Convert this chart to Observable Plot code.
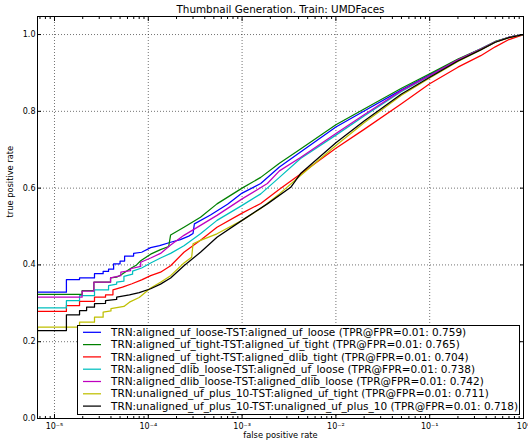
<!DOCTYPE html>
<html><head><meta charset="utf-8">
<script src="https://cdn.jsdelivr.net/npm/d3@7"></script>
<script src="https://cdn.jsdelivr.net/npm/@observablehq/plot@0.6"></script>
<style>
html,body{margin:0;padding:0;background:#fff;}
#chart svg{font-family:"DejaVu Sans";display:block;}
</style>
</head><body><div id="chart"></div>
<script>
const titleText = "Thumbnail Generation. Train: UMDFaces";
const xLabelText = "false positive rate";
const yLabelText = "true positive rate";

const seriesNames = [
  "TRN:aligned_uf_loose-TST:aligned_uf_loose (TPR@FPR=0.01: 0.759)",
  "TRN:aligned_uf_tight-TST:aligned_uf_tight (TPR@FPR=0.01: 0.765)",
  "TRN:aligned_uf_tight-TST:aligned_dlib_tight (TPR@FPR=0.01: 0.704)",
  "TRN:aligned_dlib_loose-TST:aligned_uf_loose (TPR@FPR=0.01: 0.738)",
  "TRN:aligned_dlib_loose-TST:aligned_dlib_loose (TPR@FPR=0.01: 0.742)",
  "TRN:unaligned_uf_plus_10-TST:aligned_uf_tight (TPR@FPR=0.01: 0.711)",
  "TRN:unaligned_uf_plus_10-TST:unaligned_uf_plus_10 (TPR@FPR=0.01: 0.718)"
];
const seriesColors = ["#0000ff", "#008000", "#ff0000", "#00bfbf", "#bf00bf", "#bfbf00", "#000000"];

// [false positive rate, true positive rate]
const ufLooseUfLoose = [[6e-6,0.329],[1.34e-5,0.329],[1.34e-5,0.362],[1.85e-5,0.362],[1.85e-5,0.366],[2.67e-5,0.366],[2.67e-5,0.377],[3.3e-5,0.377],[3.3e-5,0.383],[3.77e-5,0.383],[3.77e-5,0.389],[4.27e-5,0.389],[4.27e-5,0.403],[5.0e-5,0.403],[5.0e-5,0.41],[5.59e-5,0.41],[5.59e-5,0.423],[6.97e-5,0.423],[6.97e-5,0.43],[8.5e-5,0.433],[1.06e-4,0.445],[1.32e-4,0.45],[1.73e-4,0.459],[2.2e-4,0.466],[2.7e-4,0.475],[3.0e-4,0.482],[3.1e-4,0.507],[4.6e-4,0.53],[7.0e-4,0.558],[1.0e-3,0.587],[1.58e-3,0.612],[2.5e-3,0.655],[4.2e-3,0.694],[1e-2,0.759],[2e-2,0.801],[5e-2,0.856],[1e-1,0.895],[2e-1,0.934],[3.5e-1,0.962],[5e-1,0.981],[7e-1,0.993],[1,1]];
const ufTightUfTight = [[6e-6,0.323],[1.97e-5,0.323],[1.97e-5,0.333],[2.63e-5,0.333],[2.63e-5,0.355],[3.96e-5,0.355],[3.96e-5,0.366],[4.6e-5,0.368],[5.2e-5,0.375],[6.4e-5,0.39],[7.5e-5,0.40],[8.3e-5,0.411],[1.06e-4,0.428],[1.35e-4,0.44],[1.65e-4,0.448],[1.73e-4,0.478],[2.4e-4,0.498],[3.6e-4,0.524],[5.4e-4,0.559],[1.0e-3,0.6],[1.58e-3,0.628],[2.5e-3,0.665],[4.2e-3,0.702],[1e-2,0.765],[2e-2,0.806],[5e-2,0.86],[1e-1,0.898],[2e-1,0.936],[3.5e-1,0.963],[5e-1,0.982],[7e-1,0.993],[1,1]];
const ufTightDlibTight = [[6e-6,0.279],[1.34e-5,0.279],[1.34e-5,0.294],[1.85e-5,0.294],[1.85e-5,0.305],[2.67e-5,0.305],[2.67e-5,0.316],[3.5e-5,0.316],[3.5e-5,0.322],[4.2e-5,0.322],[4.2e-5,0.335],[5.3e-5,0.342],[6.7e-5,0.351],[8.5e-5,0.361],[1.06e-4,0.372],[1.35e-4,0.381],[1.73e-4,0.398],[2.4e-4,0.433],[3.6e-4,0.464],[5.4e-4,0.498],[1.0e-3,0.535],[1.58e-3,0.56],[2.5e-3,0.597],[4.2e-3,0.637],[1e-2,0.704],[2e-2,0.753],[5e-2,0.82],[1e-1,0.872],[2e-1,0.915],[3.5e-1,0.945],[5e-1,0.968],[7e-1,0.987],[1,1]];
const dlibLooseUfLoose = [[6e-6,0.288],[1.34e-5,0.288],[1.34e-5,0.307],[1.85e-5,0.307],[1.85e-5,0.32],[2.67e-5,0.32],[2.67e-5,0.335],[3.77e-5,0.335],[3.77e-5,0.346],[4.6e-5,0.35],[4.6e-5,0.355],[5.5e-5,0.358],[5.5e-5,0.37],[6.8e-5,0.376],[6.8e-5,0.384],[8.5e-5,0.392],[1.06e-4,0.405],[1.35e-4,0.418],[1.73e-4,0.43],[2.4e-4,0.45],[3.6e-4,0.481],[5.4e-4,0.516],[1.0e-3,0.555],[1.58e-3,0.585],[2.5e-3,0.628],[4.2e-3,0.677],[1e-2,0.738],[2e-2,0.788],[5e-2,0.852],[1e-1,0.892],[2e-1,0.933],[3.5e-1,0.962],[5e-1,0.981],[7e-1,0.993],[1,1]];
const dlibLooseDlibLoose = [[6e-6,0.316],[1.97e-5,0.316],[1.97e-5,0.332],[2.63e-5,0.332],[2.63e-5,0.355],[3.96e-5,0.355],[3.96e-5,0.366],[5.1e-5,0.372],[5.1e-5,0.381],[6.47e-5,0.385],[6.47e-5,0.39],[8.3e-5,0.396],[8.3e-5,0.407],[1.06e-4,0.418],[1.35e-4,0.43],[1.73e-4,0.452],[2.4e-4,0.477],[3.6e-4,0.503],[5.4e-4,0.529],[1.0e-3,0.572],[1.86e-3,0.612],[2.5e-3,0.645],[4.2e-3,0.68],[1e-2,0.742],[2e-2,0.791],[5e-2,0.854],[1e-1,0.893],[2e-1,0.934],[3.5e-1,0.962],[5e-1,0.981],[7e-1,0.993],[1,1]];
const unalignedUfTight = [[6.6e-6,0.18],[6.6e-6,0.238],[1.85e-5,0.238],[1.85e-5,0.251],[2.67e-5,0.251],[2.67e-5,0.264],[3.3e-5,0.264],[3.3e-5,0.277],[4.0e-5,0.28],[4.0e-5,0.286],[5.5e-5,0.292],[6.3e-5,0.303],[8.0e-5,0.315],[1.06e-4,0.34],[1.35e-4,0.355],[1.73e-4,0.372],[2.4e-4,0.405],[2.9e-4,0.42],[3.0e-4,0.455],[3.6e-4,0.464],[5.4e-4,0.481],[1.0e-3,0.516],[1.58e-3,0.547],[2.5e-3,0.585],[4.2e-3,0.633],[1e-2,0.711],[2e-2,0.77],[5e-2,0.842],[1e-1,0.887],[2e-1,0.93],[3.5e-1,0.96],[5e-1,0.98],[7e-1,0.992],[1,1]];
const unalignedUnaligned = [[6e-6,0.229],[1.34e-5,0.229],[1.34e-5,0.27],[1.85e-5,0.27],[1.85e-5,0.281],[2.2e-5,0.281],[2.2e-5,0.29],[2.67e-5,0.29],[2.67e-5,0.299],[3.5e-5,0.3],[3.5e-5,0.307],[4.6e-5,0.31],[4.6e-5,0.316],[6.3e-5,0.322],[8.0e-5,0.328],[1.06e-4,0.338],[1.35e-4,0.35],[1.73e-4,0.366],[2.4e-4,0.398],[3.6e-4,0.433],[5.4e-4,0.472],[1.0e-3,0.516],[1.86e-3,0.559],[3.3e-3,0.602],[4.2e-3,0.638],[1e-2,0.718],[2e-2,0.775],[5e-2,0.845],[1e-1,0.889],[2e-1,0.931],[3.5e-1,0.96],[5e-1,0.98],[7e-1,0.992],[1,1]];

const seriesData = [ufLooseUfLoose, ufTightUfTight, ufTightDlibTight, dlibLooseUfLoose, dlibLooseDlibLoose, unalignedUfTight, unalignedUnaligned];

const xTickValues = [1e-5, 1e-4, 1e-3, 1e-2, 1e-1, 1];
const xTickLabels = ["10\u207B\u2075", "10\u207B\u2074", "10\u207B\u00B3", "10\u207B\u00B2", "10\u207B\u00B9", "10\u2070"];
const yTickValues = [0, 0.2, 0.4, 0.6, 0.8, 1.0];
const yTickLabels = ["0.0", "0.2", "0.4", "0.6", "0.8", "1.0"];
const xMinorTicks = [];
for (let e = -6; e < 0; e++) for (let m = 2; m <= 9; m++) { const v = m * Math.pow(10, e); if (v > 6.6e-6 && v < 1) xMinorTicks.push(v); }

const rows = [];
seriesData.forEach((arr, i) => arr.forEach(([fpr, tpr]) => rows.push({series: seriesNames[i], fpr, tpr})));

const xLabelOf = d => xTickLabels[xTickValues.indexOf(d)];
const yLabelOf = d => yTickLabels[yTickValues.indexOf(d)];

const chart = Plot.plot({
  width: 528, height: 440,
  marginLeft: 37, marginRight: 5, marginTop: 16, marginBottom: 22,
  style: {fontFamily: "DejaVu Sans", fontSize: "8px", background: "#fff", color: "#000"},
  x: {type: "log", domain: [6.59e-6, 1]},
  y: {domain: [0, 1.047]},
  color: {domain: seriesNames, range: seriesColors},
  marks: [
    Plot.gridX(xTickValues, {stroke: "#000", strokeOpacity: 0.55, strokeDasharray: "1,2", strokeWidth: 1}),
    Plot.gridY(yTickValues, {stroke: "#000", strokeOpacity: 0.55, strokeDasharray: "1,2", strokeWidth: 1}),
    Plot.line(rows, {x: "fpr", y: "tpr", z: "series", stroke: "series", strokeWidth: 1.25, clip: true}),
    Plot.frame({stroke: "#000", strokeWidth: 1}),
    Plot.axisX(xTickValues, {anchor: "bottom", tickSize: -4, tickPadding: 9, tickFormat: xLabelOf, label: null, fontSize: 8}),
    Plot.axisX(xMinorTicks, {anchor: "bottom", tickSize: -2, tickFormat: () => "", label: null}),
    Plot.axisX(xTickValues, {anchor: "top", tickSize: -4, tickFormat: () => "", label: null}),
    Plot.axisX(xMinorTicks, {anchor: "top", tickSize: -2, tickFormat: () => "", label: null}),
    Plot.axisY(yTickValues, {anchor: "left", tickSize: -4, tickPadding: 6, tickFormat: yLabelOf, label: null, fontSize: 8}),
    Plot.axisY(yTickValues, {anchor: "right", tickSize: -4, tickFormat: () => "", label: null}),
    Plot.text([titleText], {frameAnchor: "top", dy: -4, lineAnchor: "bottom", fontSize: 10.4}),
    Plot.text([xLabelText], {frameAnchor: "bottom", dy: 17, lineAnchor: "middle", fontSize: 8.3}),
    Plot.text([yLabelText], {frameAnchor: "left", dx: -27, rotate: -90, fontSize: 8.3})
  ]
});

document.getElementById("chart").appendChild(chart);

// legend box
const svg = d3.select(chart);
const lg = svg.append("g").attr("font-family", "DejaVu Sans").attr("font-size", 10.5).attr("text-anchor", "start");
lg.append("rect").attr("x", 77.5).attr("y", 325.5).attr("width", 442).attr("height", 89)
  .attr("fill", "#fff").attr("stroke", "#000").attr("stroke-width", 1);
seriesNames.forEach((name, i) => {
  const y = 332.3 + i * 12.3;
  lg.append("line").attr("x1", 83).attr("x2", 101).attr("y1", y).attr("y2", y)
    .attr("stroke", seriesColors[i]).attr("stroke-width", 1.25);
  lg.append("text").attr("x", 111).attr("y", y).attr("dy", "0.35em").attr("fill", "#000")
    .attr("text-anchor", "start").text(name);
});
</script>
</body></html>
